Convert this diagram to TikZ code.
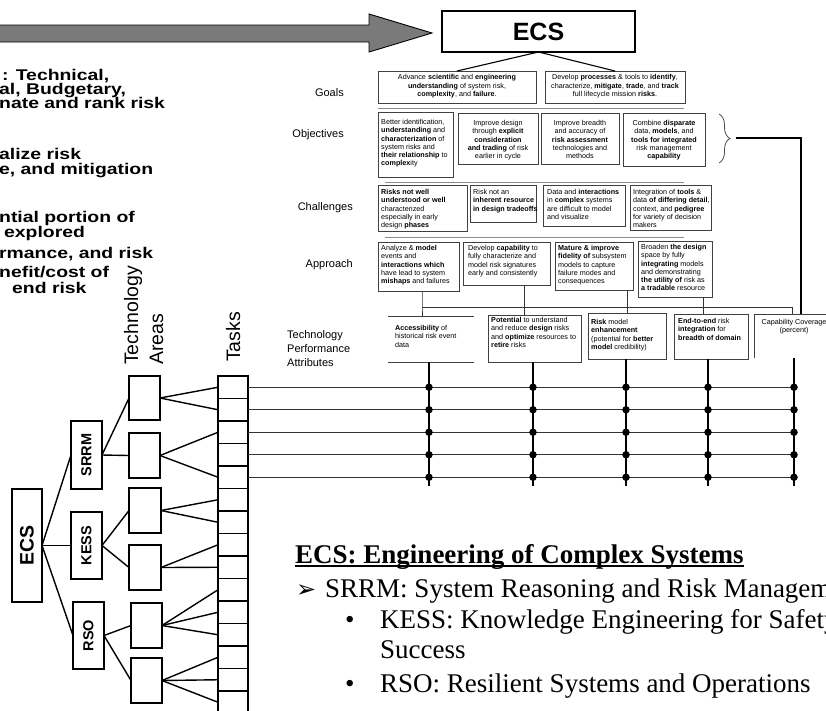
\documentclass[tikz,border=0pt]{standalone}
\usepackage{fontspec}
\usepackage{graphicx}
\setmainfont{Liberation Sans}
\newfontfamily\serifface{Liberation Serif}
\newfontfamily\symface{DejaVu Sans}
\usetikzlibrary{decorations.pathreplacing}
\newcommand\bxfont{\fontsize{7.2}{8.3}\selectfont}
\newcommand\mkbox[7][pbox]{\node[#1, minimum width={#4-#2}, minimum height={#5-#3}] (#6) at ({(#2+#4)/2},{(#3+#5)/2}) {#7};}
\newcommand\lefttxt[3]{\node[lefttext] (#1) at (#2) {\scalebox{1.25}[1]{#3}};}
\begin{document}
\begin{tikzpicture}[x=1pt,y=-1pt,
  pbox/.style={draw=black!75, line width=0.7pt, inner sep=0pt, outer sep=0pt},
  ptext/.style={inner sep=0pt, font=\bxfont, align=left, anchor=north west},
  ctext/.style={inner sep=0pt, font=\bxfont, align=center, anchor=north},
  treebox/.style={draw, line width=1.5pt, inner sep=0pt, outer sep=0pt},
  topbox/.style={draw, line width=1.6pt, inner sep=0pt, outer sep=0pt, font=\bfseries\fontsize{25}{25}\selectfont},
  treeline/.style={line width=1.4pt},
  cell/.style={draw, line width=1.1pt, minimum width=30pt, minimum height=22.5pt, inner sep=0pt, outer sep=0pt},
  dot/.style={circle, fill=black, inner sep=0pt, minimum size=7.5pt},
  rowlbl/.style={font=\fontsize{11}{14}\selectfont, anchor=east, inner sep=0pt},
  sepline/.style={draw=black!45, line width=0.9pt},
  conn/.style={line width=1.1pt},
  thinconn/.style={line width=0.8pt, black!80},
  hline/.style={line width=0.9pt, black!80},
  vline/.style={line width=1.5pt},
  lefttext/.style={anchor=base west, inner sep=0pt, font=\bfseries\fontsize{15.5}{14}\selectfont},
  serifbig/.style={anchor=base west, inner sep=0pt, font=\serifface\fontsize{27}{30}\selectfont},
  axislbl/.style={inner sep=0pt, anchor=base west, rotate=90, font=\fontsize{19.5}{20}\selectfont}
]
\useasboundingbox (0,0) rectangle (826,710);
\clip (0,0) rectangle (826,710);

% big arrow
\draw[fill=black!52, line width=0.9pt] (-5,25) -- (369,25) -- (369,14) -- (432,33) -- (369,52) -- (369,42) -- (-5,42) -- cycle;

% left bold text (cut off at the page edge)
\lefttxt{l1}{2,80}{: Technical,}
\lefttxt{l2}{-1,94}{al, Budgetary,}
\lefttxt{l3}{-1,108}{nate and rank risk}
\lefttxt{l4}{-1,159}{alize risk}
\lefttxt{l5}{-1,174}{e, and mitigation}
\lefttxt{l6}{-1,222}{ntial portion of}
\lefttxt{l7}{4,237}{explored}
\lefttxt{l8}{-1,258}{rmance, and risk}
\lefttxt{l9}{-1,277}{nefit/cost of}
\lefttxt{l10}{12,293}{end risk}

% top ECS box
\mkbox[topbox]{442}{11}{635}{52}{ecsT}{ECS}

% row labels
\node[rowlbl] (lg) at (344,93) {Goals};
\node[rowlbl] (lo) at (344,135) {Objectives};
\node[rowlbl] (lc) at (353,208) {Challenges};
\node[rowlbl] (la) at (353,265) {Approach};
\node[inner sep=0pt, anchor=north west, align=left, font=\fontsize{11}{14}\selectfont] (lt) at (287,330) {Technology\\Performance\\Attributes};

% goals
\mkbox{378}{71}{536}{103}{g1}{}
\mkbox{545}{71}{685}{103}{g2}{}
\node[ctext] (g1t) at (457,74.5) {Advance \textbf{scientific} and \textbf{engineering}\\\textbf{understanding} of system risk,\\\textbf{complexity}, and \textbf{failure}.};
\node[ctext] (g2t) at (615,74.5) {Develop \textbf{processes} \& tools to \textbf{identify},\\characterize, \textbf{mitigate}, \textbf{trade}, and \textbf{track}\\full lifecycle mission \textbf{risks}.};
\draw[conn] (ecsT.south) -- (g1.north);
\draw[conn] (ecsT.south) -- (g2.north);
\draw[sepline] (378,108) -- (684,108);

% objectives
\mkbox{378}{112}{453}{177}{o1}{}
\mkbox{458}{113}{538}{164}{o2}{}
\mkbox{541}{113}{619}{164}{o3}{}
\mkbox{623}{113}{705}{166}{o4}{}
\node[ptext] (o1t) at (381,119) {Better identification,\\\textbf{understanding} and\\\textbf{characterization} of\\system risks and\\\textbf{their relationship} to\\\textbf{complex}ity};
\node[ctext] (o2t) at (498,120) {Improve design\\through \textbf{explicit}\\\textbf{consideration}\\\textbf{and trading} of risk\\earlier in cycle};
\node[ctext] (o3t) at (580,120) {Improve breadth\\and accuracy of\\\textbf{risk assessment}\\technologies and\\methods};
\node[ctext] (o4t) at (664,120) {Combine \textbf{disparate}\\data, \textbf{models}, and\\\textbf{tools for integrated}\\risk management\\\textbf{capability}};
\draw[sepline] (385,182) -- (684,182);

% challenges
\mkbox{378}{185}{467}{231}{c1}{}
\mkbox{470}{185}{536}{222}{c2}{}
\mkbox{543}{185}{625}{226}{c3}{}
\mkbox{630}{185}{711}{230}{c4}{}
\node[ptext] (c1t) at (381,189) {\textbf{Risks not well}\\\textbf{understood or well}\\characterized\\especially in early\\design \textbf{phases}};
\node[ptext] (c2t) at (473,189) {Risk not an\\\textbf{inherent resource}\\\textbf{in design tradeoffs}};
\node[ptext] (c3t) at (547,189) {Data and \textbf{interactions}\\in \textbf{complex} systems\\are difficult to model\\and visualize};
\node[ptext] (c4t) at (633,189) {Integration of \textbf{tools} \&\\data \textbf{of differing detail},\\context, and \textbf{pedigree}\\for variety of decision\\makers};
\draw[sepline] (385,237) -- (684,237);

% approach
\mkbox{378}{242}{459}{291}{a1}{}
\mkbox{463}{242}{550}{285}{a2}{}
\mkbox{555}{242}{633}{290}{a3}{}
\mkbox{638}{241}{712}{297}{a4}{}
\node[ptext] (a1t) at (381,245) {Analyze \& \textbf{model}\\events and\\\textbf{interactions which}\\have lead to system\\\textbf{mishaps} and failures};
\node[ptext] (a2t) at (468,245) {Develop \textbf{capability} to\\fully characterize and\\model risk signatures\\early and consistently};
\node[ptext] (a3t) at (558,245) {\textbf{Mature \& improve}\\\textbf{fidelity of} subsystem\\models to capture\\failure modes and\\consequences};
\node[ptext] (a4t) at (641,244) {Broaden \textbf{the design}\\space by fully\\\textbf{integrating} models\\and demonstrating\\\textbf{the utility of} risk as\\\textbf{a tradable} resource};

% technology performance attributes
\mkbox[inner sep=0pt, outer sep=0pt]{388}{316}{474}{362}{tp1}{}
\draw[pbox] (tp1.north west) -- (tp1.north east);
\draw[pbox] (tp1.south west) -- (tp1.south east);
\mkbox{488}{315}{581}{362}{tp2}{}
\mkbox{588}{313}{666}{359}{tp3}{}
\mkbox{674}{314}{748}{359}{tp4}{}
\mkbox[inner sep=0pt, outer sep=0pt]{754}{314}{834}{358}{tp5}{}
\draw[pbox] (tp5.north east) -- (tp5.north west) -- (tp5.south west);
\node[ptext] (tp1t) at (395,325) {\textbf{Accessibility} of\\historical risk event\\data};
\node[ptext] (tp2t) at (491,317) {\textbf{Potential} to understand\\and reduce \textbf{design} risks\\and \textbf{optimize} resources to\\\textbf{retire} risks};
\node[ptext] (tp3t) at (591,319) {\textbf{Risk} model\\\textbf{enhancement}\\(potential for \textbf{better}\\\textbf{model} credibility)};
\node[ptext] (tp4t) at (678,318) {\textbf{End-to-end} risk\\\textbf{integration} for\\\textbf{breadth of domain}};
\node[ctext] (tp5t) at (794,319) {Capability Coverage\\(percent)};

% bus from approach to attributes
\coordinate (bA) at (422,307);
\coordinate (bB) at (792,307);
\coordinate (v2) at (524,307);
\coordinate (v3) at (627,307);
\coordinate (v4) at (703,307);
\draw[thinconn] (a1.south -| bA) -- (bA) -- (tp1.north -| bA);
\draw[thinconn] (bA) -- (bB) -- (tp5.north -| bB);
\draw[thinconn] (a2.south -| v2) -- (tp2.north -| v2);
\draw[thinconn] (a3.south -| v3) -- (tp3.north -| v3);
\draw[thinconn] (a4.south -| v4) -- (tp4.north -| v4);

% brace and feedback line
\draw[decorate, decoration={brace, amplitude=11pt, aspect=0.5}, line width=0.8pt, black!70] (719,114) -- (719,163);
\coordinate (brtip) at (736,138);
\coordinate (capin) at (801,314);
\draw[line width=1.4pt] (brtip) -| (capin);

% left tree
\mkbox[treebox]{12}{489}{42}{602}{ecsL}{\rotatebox{90}{\bfseries\fontsize{19.5}{20}\selectfont ECS}}
\mkbox[treebox]{71}{421}{102}{489}{srrm}{\rotatebox{90}{\bfseries\fontsize{14.5}{15}\selectfont SRRM}}
\mkbox[treebox]{71}{512}{102}{579}{kess}{\rotatebox{90}{\bfseries\fontsize{14.5}{15}\selectfont KESS}}
\mkbox[treebox]{73}{602}{104}{669}{rso}{\rotatebox{90}{\bfseries\fontsize{14.5}{15}\selectfont RSO}}
\mkbox[treebox]{129}{376}{160}{420}{ta1}{}
\mkbox[treebox]{129}{433}{160}{478}{ta2}{}
\mkbox[treebox]{129}{488}{161}{533}{ta3}{}
\mkbox[treebox]{129}{545}{161}{590}{ta4}{}
\mkbox[treebox]{131}{603}{162}{648}{ta5}{}
\mkbox[treebox]{131}{658}{162}{703}{ta6}{}
\foreach \i in {1,...,15} {\node[cell] (t\i) at (233,{387.25+22.5*(\i-1)}) {};}
\draw[line width=1.9pt] (t1.north west) -- (t15.south west);
\draw[line width=1.9pt] (t1.north east) -- (t15.south east);

\node[axislbl] (axT) at (138,365) {Technology};
\node[axislbl] (axA) at (163,365) {Areas};
\node[axislbl] (axK) at (240,362) {Tasks};

\draw[treeline] (ecsL.east) -- (srrm.west);
\draw[treeline] (ecsL.east) -- (kess.west);
\draw[treeline] (ecsL.east) -- (rso.west);
\draw[treeline] (srrm.east) -- (ta1.west);
\draw[treeline] (srrm.east) -- (ta2.west);
\draw[treeline] (kess.east) -- (ta3.west);
\draw[treeline] (kess.east) -- (ta4.west);
\draw[treeline] (rso.east) -- (ta5.west);
\draw[treeline] (rso.east) -- (ta6.west);
\foreach \a/\b in {ta1/t1, ta1/t2, ta2/t3, ta2/t5, ta3/t6, ta3/t7, ta4/t8, ta4/t9, ta5/t10, ta5/t11, ta5/t12, ta6/t13, ta6/t14, ta6/t15}
  {\draw[treeline] (\a.east) -- (\b.west);}

% matrix of tasks vs attributes
\foreach \r in {1,...,5} {
  \foreach \c/\xx in {1/429,2/533,3/626,4/708,5/794} {
    \coordinate (d\r\c) at (\xx,{387.25+22.5*(\r-1)});
  }
  \draw[hline] (t\r.east) -- (d\r5);
}
\coordinate (e1) at (429,486);
\coordinate (e2) at (533,486);
\coordinate (e3) at (626,486);
\coordinate (e4) at (708,486);
\coordinate (e5) at (794,486);
\draw[vline] (tp1.south -| e1) -- (e1);
\draw[vline] (tp2.south -| e2) -- (e2);
\draw[vline] (tp3.south -| e3) -- (e3);
\draw[vline] (tp4.south -| e4) -- (e4);
\draw[vline] (tp5.south -| e5) -- (e5);
\foreach \r in {1,...,5} {
  \foreach \c in {1,...,5} {
    \node[dot] (n\r\c) at (d\r\c) {};
  }
}

% legend text
\node[serifbig, font=\serifface\bfseries\fontsize{27}{30}\selectfont] (ttl) at (295,563) {ECS: Engineering of Complex Systems};
\draw[line width=1.3pt] ([yshift=-3pt]ttl.base west) -- ([yshift=-3pt]ttl.base east);
\node[anchor=base west, inner sep=0pt, font=\symface\fontsize{24}{24}\selectfont] (arrw) at (296,597) {➢};
\node[serifbig] (ls) at (325,597) {SRRM: System Reasoning and Risk Management};
\node[serifbig] (bk) at (345,628) {\textbullet};
\node[serifbig] (lk) at (380,628) {KESS: Knowledge Engineering for Safety};
\node[serifbig] (lsu) at (380,658) {Success};
\node[serifbig] (br) at (345,692) {\textbullet};
\node[serifbig] (lr) at (380,692) {RSO: Resilient Systems and Operations};
\end{tikzpicture}
\end{document}
